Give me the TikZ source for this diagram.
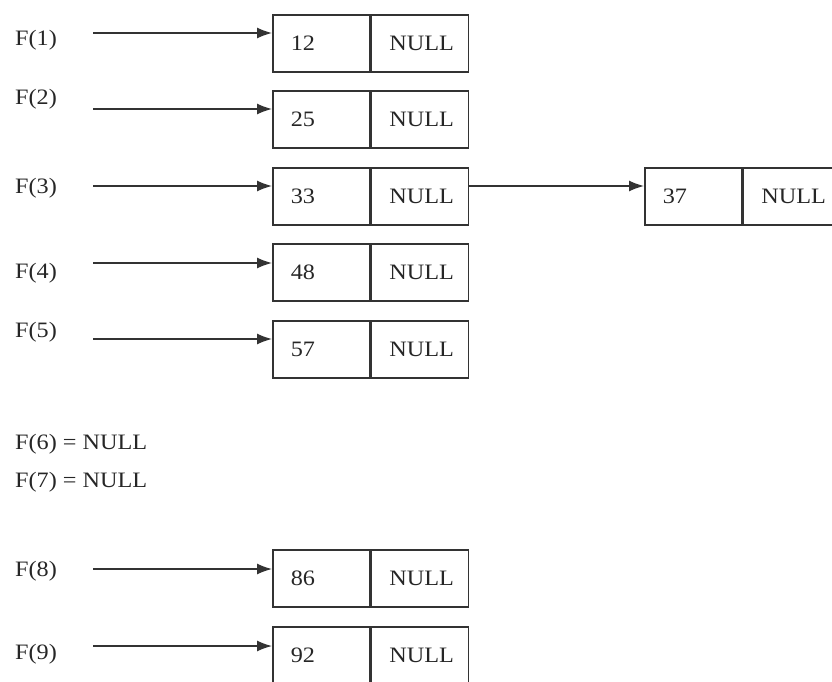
\documentclass[tikz,border=0pt]{standalone}
\usepackage{fontspec}
\setmainfont[FakeStretch=1.1]{Liberation Serif}
\usetikzlibrary{arrows.meta}

\begin{document}
\begin{tikzpicture}[
    x=1pt,y=-1pt,
    font=\fontsize{22}{26}\selectfont,
    cell/.style={draw=black!80,line width=1.6pt,minimum height=57pt,
                 inner xsep=18pt,inner ysep=0pt,text width=61pt,text=black!85},
    valcell/.style={cell,align=left,anchor=north west},
    nullcell/.style={cell,align=center,anchor=west},
    fname/.style={anchor=west,inner sep=0pt,text=black!85},
    ptr/.style={-{Latex[length=15pt,width=11pt]},line width=1.4pt,draw=black!80}
  ]
    \clip (0,0) rectangle (832,682);

    % hash slots
    \node[fname] (f1) at (15,40) {F(1)};
    \node[fname] (f2) at (15,99) {F(2)};
    \node[fname] (f3) at (15,188) {F(3)};
    \node[fname] (f4) at (15,273) {F(4)};
    \node[fname] (f5) at (15,332) {F(5)};
    \node[fname] (f6) at (15,444) {F(6) = NULL};
    \node[fname] (f7) at (15,482) {F(7) = NULL};
    \node[fname] (f8) at (15,571) {F(8)};
    \node[fname] (f9) at (15,654) {F(9)};

    % list nodes
    \node[valcell] (v1) at (272,14) {12};
    \node[nullcell] (n1) at (v1.east) {NULL};
    \node[valcell] (v2) at (272,90) {25};
    \node[nullcell] (n2) at (v2.east) {NULL};
    \node[valcell] (v3) at (272,167) {33};
    \node[nullcell] (n3) at (v3.east) {NULL};
    \node[valcell] (v4) at (272,243) {48};
    \node[nullcell] (n4) at (v4.east) {NULL};
    \node[valcell] (v5) at (272,320) {57};
    \node[nullcell] (n5) at (v5.east) {NULL};
    \node[valcell] (v8) at (272,549) {86};
    \node[nullcell] (n8) at (v8.east) {NULL};
    \node[valcell] (v9) at (272,626) {92};
    \node[nullcell] (n9) at (v9.east) {NULL};

    \node[valcell] (v3b) at (644,167) {37};
    \node[nullcell] (n3b) at (v3b.east) {NULL};

    % pointers
    \coordinate (s1) at (93,33);
    \coordinate (s2) at (93,109);
    \coordinate (s3) at (93,186);
    \coordinate (s4) at (93,263);
    \coordinate (s5) at (93,339);
    \coordinate (s8) at (93,569);
    \coordinate (s9) at (93,646);

    \draw[ptr] (s1) -- (s1 -| v1.west);
    \draw[ptr] (s2) -- (s2 -| v2.west);
    \draw[ptr] (s3) -- (s3 -| v3.west);
    \draw[ptr] (s4) -- (s4 -| v4.west);
    \draw[ptr] (s5) -- (s5 -| v5.west);
    \draw[ptr] (s8) -- (s8 -| v8.west);
    \draw[ptr] (s9) -- (s9 -| v9.west);

    \draw[ptr] (s3 -| n3.east) -- (s3 -| v3b.west);
\end{tikzpicture}
\end{document}
